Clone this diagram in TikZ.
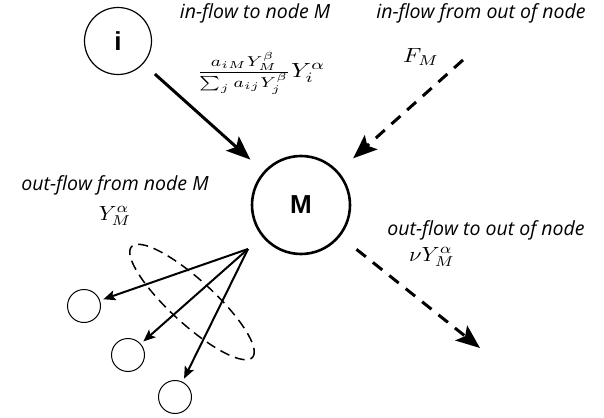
\RequirePackage{fix-cm}
\documentclass[tikz,border=0pt]{standalone}
\usepackage[no-math]{fontspec}
\usepackage{amsmath, graphicx}
\setmainfont{Open Sans}
\newfontfamily\knotenfont{Liberation Sans}
\newcommand{\gross}[2]{\scalebox{#1}[2.05]{$#2$}}
\usetikzlibrary{arrows.meta}

\begin{document}
\begin{tikzpicture}[x=1pt, y=-1pt,
			knoten/.style={circle, draw, inner sep=0pt, outer sep=0pt, minimum size=#1},
			fluss/.style={line width=3pt, -{Stealth[length=24pt, width=19pt, inset=5pt]}},
			zweig/.style={line width=2pt, -{Stealth[length=12pt, width=10pt, inset=2.5pt]}, shorten >=4pt},
			strich/.style={dash pattern=on 12pt off 9pt},
			notiz/.style={font=\fontsize{19.5}{22}\selectfont\itshape},
			formel/.style={inner sep=1pt}]
			%Bildbereich
			\useasboundingbox (0,0) rectangle (604,417);
			%Knoten zeichnen
			\node[knoten=67pt, line width=1.2pt, font=\fontsize{26}{26}\knotenfont\bfseries] (i) at (118,41) {i};
			\node[knoten=98pt, line width=2.6pt, font=\fontsize{26}{26}\knotenfont\bfseries] (M) at (301,205) {M};
			\foreach \k/\x/\y in {1/84/306, 2/128/355, 3/175/397}
				\node[knoten=33pt, line width=1pt] (k\k) at (\x,\y) {};
			% Hilfspunkte
			\coordinate (fin) at (463,60);
			\coordinate (fout) at (480,348);
			\coordinate (q) at (248,249);
			%Fluesse zeichnen
			\draw[fluss, shorten <=16pt, shorten >=19pt] (i) -- (M);
			\draw[fluss, strich, shorten >=21pt] (fin) -- (M);
			\draw[fluss, strich, shorten <=22pt] (M) -- (fout);
			\foreach \k in {1,2,3} \draw[zweig] (q) -- (k\k);
			\draw[line width=1.5pt, dash pattern=on 10pt off 6pt, rotate around={-42.5:(192,302)}]
				(192,302) ellipse [x radius=82pt, y radius=22pt];
			%Beschriftung
			\node[notiz] (t1) at (255,13) {in-flow to node M};
			\node[notiz] (t2) at (481,13) {in-flow from out of node};
			\node[notiz] (t3) at (115,185) {out-flow from node M};
			\node[notiz] (t4) at (486,230) {out-flow to out of node};
			\node[formel] (f1) at (261,73) {\gross{2.5}{\frac{a_{iM}Y_M^\beta}{\sum_j a_{ij}Y_j^\beta}Y_i^\alpha}};
			\node[formel] (f2) at (421,57) {\gross{2.35}{F_M}};
			\node[formel] (f3) at (115,216) {\gross{2.2}{Y_M^\alpha}};
			\node[formel] (f4) at (432,257) {\gross{2.25}{\nu Y_M^\alpha}};
		\end{tikzpicture}
\end{document}
